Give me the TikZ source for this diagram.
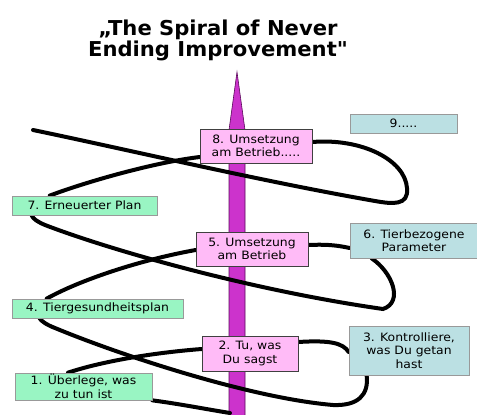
\documentclass[tikz,border=0pt]{standalone}
\usepackage{fontspec}
\setmainfont{DejaVu Sans}
\newfontfamily\boxfont[FakeStretch=1.08]{DejaVu Sans}
\newfontfamily\titlefont[FakeStretch=1.03]{DejaVu Sans Bold}
\definecolor{arrowfill}{HTML}{CC33CC}
\definecolor{arrowline}{HTML}{5A0A5A}
\definecolor{pinkbox}{HTML}{FFBBF7}
\definecolor{greenbox}{HTML}{99F5C3}
\definecolor{bluebox}{HTML}{BBE0E3}
\tikzset{
  stepbox/.style={inner sep=0pt, align=center, font=\boxfont\fontsize{11.5}{13.5}\selectfont, line width=0.7pt},
  pinkstep/.style={stepbox, fill=pinkbox, draw=black!75},
  greenstep/.style={stepbox, fill=greenbox, draw=gray!80},
  bluestep/.style={stepbox, fill=bluebox, draw=gray!80},
  spiral/.style={line width=4pt, line cap=round, black},
}
\begin{document}
\begin{tikzpicture}[x=1pt,y=-1pt]
\useasboundingbox (0,0) rectangle (477,415);
% title
\node[font=\titlefont\fontsize{20.5}{21}\selectfont, align=center] (title) at (218,40) {„The Spiral of Never\\Ending Improvement"};
% arrow
\draw[fill=arrowfill, draw=arrowline, line width=0.6pt] (237,72) -- (245,130) -- (245,418) -- (229,418) -- (229,130) -- cycle;
% boxes (positioned first, redrawn on top later)
\path
  node[bluestep,  minimum width=107pt, minimum height=19pt] (b9) at (403.5,123.5) {9.....}
  node[pinkstep,  minimum width=112pt, minimum height=34pt] (b8) at (256,146) {8. Umsetzung\\am Betrieb.....}
  node[greenstep, minimum width=145pt, minimum height=19pt] (b7) at (84.5,205.5) {7. Erneuerter Plan}
  node[pinkstep,  minimum width=112pt, minimum height=34pt] (b5) at (252,249) {5. Umsetzung\\am Betrieb}
  node[bluestep,  minimum width=128pt, minimum height=35pt] (b6) at (414,240.5) {6. Tierbezogene\\Parameter}
  node[greenstep, minimum width=171pt, minimum height=19pt] (b4) at (97.5,308.5) {4. Tiergesundheitsplan}
  node[pinkstep,  minimum width=96pt,  minimum height=35pt] (b2) at (250,353.5) {2. Tu, was\\Du sagst}
  node[bluestep,  minimum width=120pt, minimum height=49pt] (b3) at (409,350.5) {3. Kontrolliere,\\was Du getan\\hast}
  node[greenstep, minimum width=137pt, minimum height=27pt] (b1) at (83.5,386.5) {1. Überlege, was\\zu tun ist};
\coordinate (freeend) at (33,130);
\coordinate (bottomend) at (230,413);
% spiral
\draw[spiral] ([yshift=4pt]b8.east) .. controls (362,138) and (405,160) .. (407,188)
  .. controls (409,206) and (392,204) .. (375,201)
  .. controls (260,181) and (120,148) .. (freeend);
\draw[spiral] ([xshift=38pt]b7.north west) .. controls (80,184) and (150,163) .. ([yshift=-11pt]b8.west);
\draw[spiral] ([xshift=22pt]b6.south west) .. controls (392,272) and (404,302) .. (383,309)
  .. controls (250,290) and (110,250) .. (45,225)
  .. controls (38,222) and (33,219) .. ([xshift=20pt]b7.south west);
\draw[spiral] ([yshift=4pt]b5.east) .. controls (330,244) and (340,246) .. ([yshift=-7.5pt]b6.west);
\draw[spiral] ([xshift=35pt]b4.north west) .. controls (80,280) and (140,260) .. ([yshift=-1pt]b5.west);
\draw[spiral] ([xshift=18pt]b3.south west) .. controls (369,395) and (358,406) .. (333,405)
  .. controls (250,398) and (120,355) .. (55,328)
  .. controls (47,325) and (41,321) .. ([xshift=28pt]b4.south west);
\draw[spiral] ([yshift=11.5pt]b2.east) .. controls (330,340) and (343,343) .. ([yshift=-1.5pt]b3.west);
\draw[spiral] ([xshift=-15.5pt]b1.north) .. controls (100,362) and (150,353) .. ([yshift=4.5pt]b2.west);
\draw[spiral] (b1.south east) .. controls (180,404) and (205,409) .. (bottomend);
% redraw boxes on top
\path
  node[bluestep,  minimum width=107pt, minimum height=19pt] at (403.5,123.5) {9.....}
  node[pinkstep,  minimum width=112pt, minimum height=34pt] at (256,146) {8. Umsetzung\\am Betrieb.....}
  node[greenstep, minimum width=145pt, minimum height=19pt] at (84.5,205.5) {7. Erneuerter Plan}
  node[pinkstep,  minimum width=112pt, minimum height=34pt] at (252,249) {5. Umsetzung\\am Betrieb}
  node[bluestep,  minimum width=128pt, minimum height=35pt] at (414,240.5) {6. Tierbezogene\\Parameter}
  node[greenstep, minimum width=171pt, minimum height=19pt] at (97.5,308.5) {4. Tiergesundheitsplan}
  node[pinkstep,  minimum width=96pt,  minimum height=35pt] at (250,353.5) {2. Tu, was\\Du sagst}
  node[bluestep,  minimum width=120pt, minimum height=49pt] at (409,350.5) {3. Kontrolliere,\\was Du getan\\hast}
  node[greenstep, minimum width=137pt, minimum height=27pt] at (83.5,386.5) {1. Überlege, was\\zu tun ist};
\end{tikzpicture}
\end{document}
